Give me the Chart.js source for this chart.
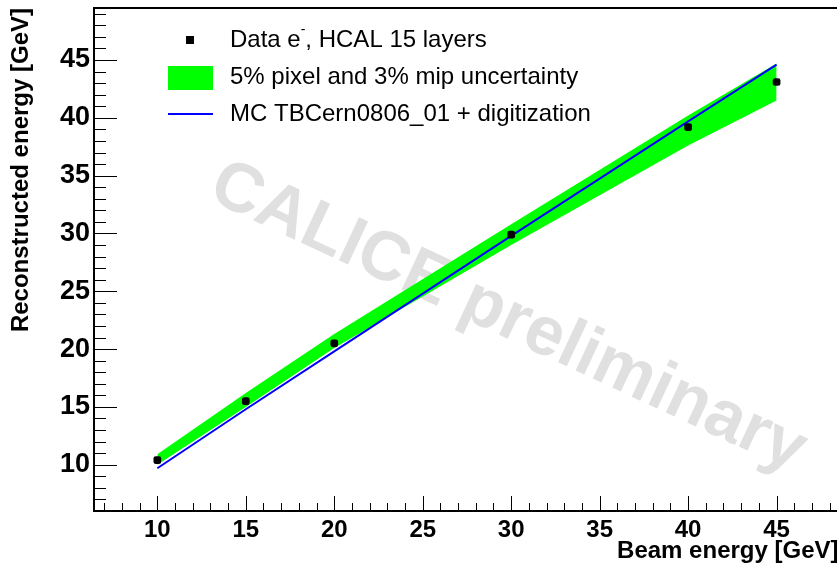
<!DOCTYPE html>
<html>
<head>
<meta charset="utf-8">
<script src="https://cdn.jsdelivr.net/npm/chart.js@4"></script>
<style>
  html, body { margin: 0; padding: 0; background: #fff; overflow: hidden; }
  #wrap { width: 837px; height: 567px; overflow: hidden; }
</style>
</head>
<body>
<div id="wrap"><canvas id="myChart" width="843" height="567"></canvas></div>
<script>
// Data
const beamEnergy = [10, 15, 20, 30, 40, 45];
const dataReco = [10.4, 15.5, 20.5, 29.9, 39.2, 43.1];
const mcReco = [9.7, 14.8, 19.8, 29.8, 39.7, 44.6];
const bandUpper = [10.9, 16.2, 21.3, 30.8, 40.2, 44.7];
const bandLower = [10.0, 15.0, 20.1, 29.0, 37.6, 41.5];
const xTicks = [10, 15, 20, 25, 30, 35, 40, 45];
const yTicks = [10, 15, 20, 25, 30, 35, 40, 45];

const pts = (ys) => beamEnergy.map((x, i) => ({ x: x, y: ys[i] }));

// watermark behind the data
const watermark = {
  id: 'watermark',
  beforeDatasetsDraw(chart) {
    const c = chart.ctx;
    c.save();
    c.translate(508, 318);
    c.rotate(25 * Math.PI / 180);
    c.font = 'bold 69px "Liberation Sans", Arial, sans-serif';
    c.fillStyle = '#e0e0e0';
    c.textAlign = 'center';
    c.textBaseline = 'middle';
    c.fillText('CALICE preliminary', 0, 0);
    c.restore();
  }
};

// frame, inward ticks and legend
const frame = {
  id: 'frame',
  afterDraw(chart) {
    const c = chart.ctx;
    const a = chart.chartArea;
    const xs = chart.scales.x, ys = chart.scales.y;
    c.save();
    c.strokeStyle = '#000';
    c.lineWidth = 1;
    c.beginPath();
    for (let v = Math.ceil(xs.min); v <= xs.max; v++) {
      const px = Math.round(xs.getPixelForValue(v)) + 0.5;
      const len = v % 5 === 0 ? 15 : 8;
      c.moveTo(px, a.bottom);
      c.lineTo(px, a.bottom - len);
    }
    for (let v = Math.ceil(ys.min); v <= ys.max; v++) {
      const py = Math.round(ys.getPixelForValue(v)) + 0.5;
      const len = v % 5 === 0 ? 23 : 12;
      c.moveTo(a.left, py);
      c.lineTo(a.left + len, py);
    }
    c.stroke();
    c.lineWidth = 2;
    c.beginPath();
    c.moveTo(a.right, a.top);
    c.lineTo(a.left, a.top);
    c.lineTo(a.left, a.bottom);
    c.lineTo(a.right, a.bottom);
    c.stroke();

    // legend
    c.font = '24px "Liberation Sans", Arial, sans-serif';
    c.fillStyle = '#000';
    c.textBaseline = 'middle';
    c.textAlign = 'left';
    c.fillRect(186, 36, 8, 8);
    let tx = 230;
    c.fillText('Data e', tx, 40);
    tx += c.measureText('Data e').width;
    c.font = '14px "Liberation Sans", Arial, sans-serif';
    c.fillText('-', tx, 30);
    tx += c.measureText('-').width;
    c.font = '24px "Liberation Sans", Arial, sans-serif';
    c.fillText(', HCAL 15 layers', tx, 40);

    c.fillStyle = '#00ff00';
    c.fillRect(168, 66, 45, 24);
    c.fillStyle = '#000';
    c.fillText('5% pixel and 3% mip uncertainty', 230, 77);

    c.strokeStyle = '#0000ff';
    c.lineWidth = 2;
    c.beginPath();
    c.moveTo(168, 114);
    c.lineTo(213, 114);
    c.stroke();
    c.fillText('MC TBCern0806_01 + digitization', 230, 114);
    c.restore();
  }
};

const xTickFont = { family: '"Liberation Sans", Arial, sans-serif', size: 24, weight: 'bold' };
const yTickFont = { family: '"Liberation Sans", Arial, sans-serif', size: 27, weight: 'bold' };
const titleFont = { family: '"Liberation Sans", Arial, sans-serif', size: 24, weight: 'bold' };

new Chart(document.getElementById('myChart'), {
  type: 'line',
  data: {
    datasets: [
      {
        label: 'Data',
        data: pts(dataReco),
        showLine: false,
        pointStyle: 'rectRounded',
        pointRadius: 4.5,
        pointBackgroundColor: '#000',
        pointBorderColor: '#000',
        pointBorderWidth: 0
      },
      {
        label: 'MC',
        data: pts(mcReco),
        borderColor: '#0000ff',
        borderWidth: 2,
        pointRadius: 0,
        tension: 0,
        fill: false
      },
      {
        label: 'upper',
        data: pts(bandUpper),
        borderWidth: 0,
        borderColor: 'rgba(0,0,0,0)',
        pointRadius: 0,
        tension: 0,
        fill: false
      },
      {
        label: 'lower',
        data: pts(bandLower),
        borderWidth: 0,
        borderColor: 'rgba(0,0,0,0)',
        backgroundColor: '#00ff00',
        pointRadius: 0,
        tension: 0,
        fill: '-1'
      }
    ]
  },
  options: {
    responsive: false,
    animation: false,
    layout: { padding: { top: 8, left: 0, right: 0, bottom: 0 } },
    plugins: { legend: { display: false }, tooltip: { enabled: false } },
    scales: {
      x: {
        type: 'linear',
        min: 6.42,
        max: 48.5,
        grid: { display: false, drawTicks: false },
        border: { display: false },
        afterBuildTicks: (s) => { s.ticks = xTicks.map(v => ({ value: v })); },
        afterFit: (s) => { s.height = 56; s.paddingLeft = 0; s.paddingRight = 0; },
        ticks: { color: '#000', font: xTickFont, padding: 5, autoSkip: false, maxRotation: 0 },
        title: { display: true, text: 'Beam energy [GeV]', align: 'end', color: '#000', font: titleFont, padding: { top: 0, bottom: 1 } }
      },
      y: {
        type: 'linear',
        min: 6,
        max: 49.5,
        grid: { display: false, drawTicks: false },
        border: { display: false },
        afterBuildTicks: (s) => { s.ticks = yTicks.map(v => ({ value: v })); },
        afterFit: (s) => { s.width = 94; s.paddingTop = 0; s.paddingBottom = 0; },
        ticks: { color: '#000', font: yTickFont, padding: 4, autoSkip: false },
        title: { display: true, text: 'Reconstructed energy [GeV]', align: 'end', color: '#000', font: titleFont, padding: { top: 7, bottom: 0 } }
      }
    }
  },
  plugins: [watermark, frame]
});
</script>
</body>
</html>
